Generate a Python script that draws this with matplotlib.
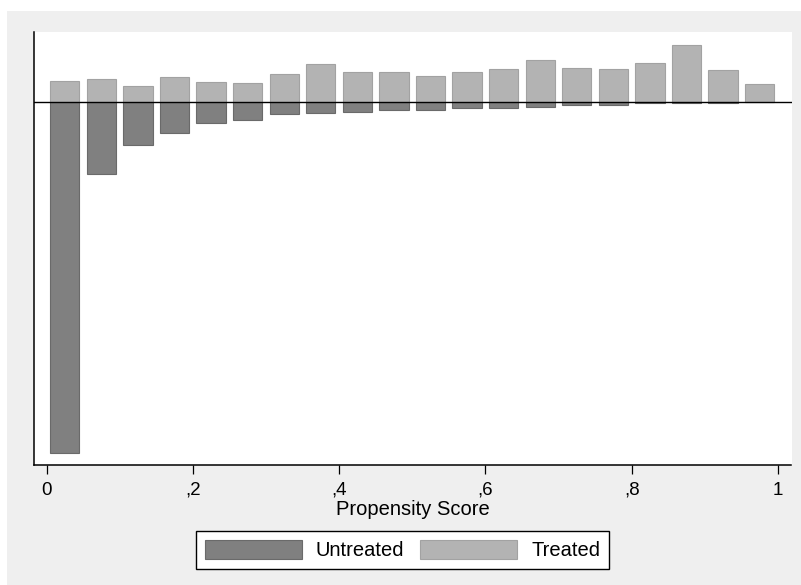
import matplotlib
matplotlib.use('Agg')
import matplotlib.pyplot as plt
from matplotlib.patches import Rectangle

# propensity score bins (width 0.05), bar centres
bin_centres = [0.025, 0.075, 0.125, 0.175, 0.225, 0.275, 0.325, 0.375, 0.425, 0.475,
               0.525, 0.575, 0.625, 0.675, 0.725, 0.775, 0.825, 0.875, 0.925, 0.975]
treated = [21, 23.7, 16, 25, 20.3, 19.3, 28.7, 38, 30, 30,
           26.3, 30.3, 33.7, 42.3, 34.3, 33, 39.7, 57.7, 32, 18.7]
untreated = [350.5, 71.3, 42.3, 30.3, 20.3, 18, 11.3, 10.3, 10, 7.7,
             8, 5.3, 6, 4.3, 2.3, 3, 1, 0.6, 1, 0]
xticks = [0, 0.2, 0.4, 0.6, 0.8, 1]
xticklabels = ['0', ',2', ',4', ',6', ',8', '1']

plt.rcParams['font.family'] = ['Liberation Sans', 'DejaVu Sans']

W, H = 801, 585
fig = plt.figure(figsize=(W / 100, H / 100), dpi=100)
fig.patch.set_facecolor('white')
bg = Rectangle((7 / W, 0), 1 - 7 / W, 1 - 11 / H, transform=fig.transFigure,
               facecolor='#efefef', edgecolor='none', zorder=-10)
fig.add_artist(bg)

ax = fig.add_axes([33.5 / W, (H - 465) / H, 758 / W, 433 / H])
ax.set_facecolor('white')

ax.bar(bin_centres, [-u for u in untreated], width=0.04, color='#808080',
       edgecolor='#6a6a6a', linewidth=0.8, label='Untreated', zorder=2)
ax.bar(bin_centres, treated, width=0.04, color='#b3b3b3',
       edgecolor='#a2a2a2', linewidth=0.8, label='Treated', zorder=2)
ax.axhline(0, color='black', linewidth=1, zorder=3)

ax.set_xlim(-0.0178, 1.0185)
ax.set_ylim(-362.7, 70.3)

ax.spines['top'].set_visible(False)
ax.spines['right'].set_visible(False)
ax.spines['left'].set_linewidth(1.1)
ax.spines['bottom'].set_linewidth(1.1)
ax.set_yticks([])
ax.set_xticks(xticks)
ax.set_xticklabels(xticklabels, fontsize=13.5)
ax.tick_params(axis='x', length=6.5, width=0.9, pad=5.5)
ax.set_xlabel('Propensity Score', fontsize=14.5, labelpad=1)

leg = fig.legend(loc='center', bbox_to_anchor=(402.5 / W, (H - 550) / H), ncol=2,
                 fontsize=14.5, handlelength=4.8, handleheight=1.1, fancybox=False,
                 framealpha=1, edgecolor='black', borderpad=0.45, columnspacing=0.8,
                 handletextpad=0.7)
leg.get_frame().set_linewidth(1)

fig.savefig('out.png', dpi=100)
